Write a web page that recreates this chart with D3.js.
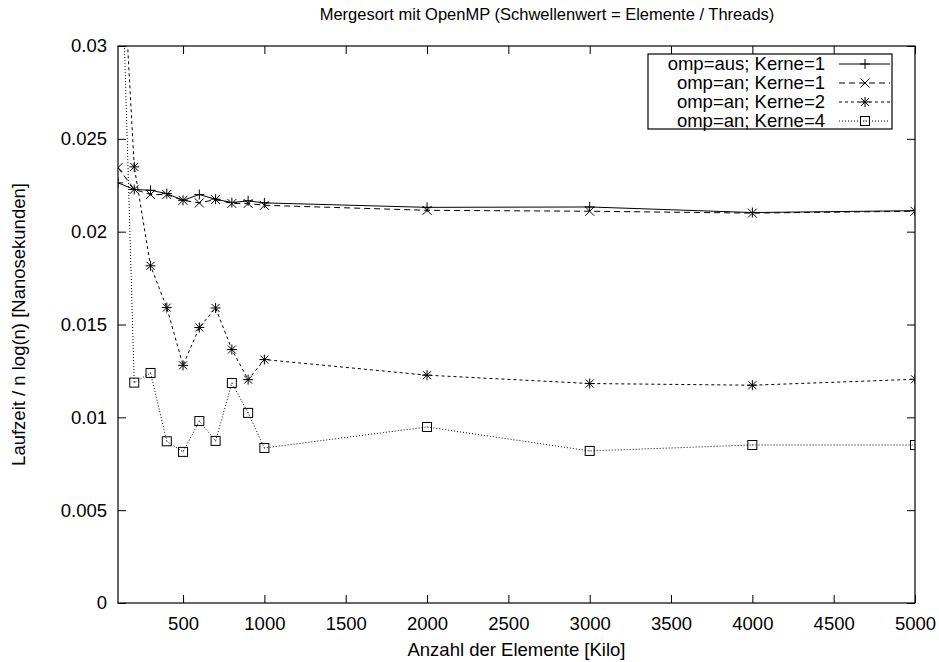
<!DOCTYPE html>
<html>
<head>
<meta charset="utf-8">
<script src="https://cdn.jsdelivr.net/npm/d3@7/dist/d3.min.js"></script>
<style>
  body { margin: 0; background: #fff; }
  svg text { font-family: "Liberation Sans", Arial, Helvetica, sans-serif; fill: #000; }
</style>
</head>
<body>
<div id="chart"></div>
<script>
const WIDTH = 939;
const HEIGHT = 662;
const MARGIN = { left: 118, right: 24, top: 46, bottom: 59 };

const TITLE = 'Mergesort mit OpenMP (Schwellenwert = Elemente / Threads)';
const X_LABEL = 'Anzahl der Elemente [Kilo]';
const Y_LABEL = 'Laufzeit / n log(n) [Nanosekunden]';

// Anzahl der Elemente [Kilo]
const sizes = [100, 200, 300, 400, 500, 600, 700, 800, 900, 1000, 2000, 3000, 4000, 5000];

// Laufzeit / n log(n) per series
const ompAusK1 = [0.02263, 0.02227, 0.02223, 0.02205, 0.02169, 0.02200, 0.02175, 0.02157, 0.02166, 0.02155, 0.02131, 0.02133, 0.02103, 0.02113];
const ompAnK1 = [0.02345, 0.02228, 0.02200, 0.02200, 0.02169, 0.02155, 0.02173, 0.02152, 0.02152, 0.02142, 0.02115, 0.02110, 0.02100, 0.02110];
const ompAnK2 = [0.0395, 0.02349, 0.01816, 0.01591, 0.01280, 0.01484, 0.01589, 0.01365, 0.01203, 0.01311, 0.01227, 0.01182, 0.01173, 0.01205];
const ompAnK4 = [0.0420, 0.01187, 0.01239, 0.00871, 0.00814, 0.00980, 0.00873, 0.01185, 0.01024, 0.00835, 0.00948, 0.00819, 0.00851, 0.00851];

const seriesNames = ['omp=aus; Kerne=1', 'omp=an; Kerne=1', 'omp=an; Kerne=2', 'omp=an; Kerne=4'];
const seriesValues = [ompAusK1, ompAnK1, ompAnK2, ompAnK4];
const seriesDash = [null, '6,4', '3,3', '1,2'];
const seriesMarker = ['plus', 'cross', 'star', 'box'];

const xTicks = [500, 1000, 1500, 2000, 2500, 3000, 3500, 4000, 4500, 5000];
const yTicks = [0, 0.005, 0.01, 0.015, 0.02, 0.025, 0.03];
const yTickLabels = ['0', '0.005', '0.01', '0.015', '0.02', '0.025', '0.03'];

const svg = d3.select('#chart')
    .append('svg')
    .attr('width', WIDTH)
    .attr('height', HEIGHT);

const x = d3.scaleLinear()
    .domain([100, 5000])
    .range([MARGIN.left, WIDTH - MARGIN.right]);

const y = d3.scaleLinear()
    .domain([0, 0.03])
    .range([HEIGHT - MARGIN.bottom, MARGIN.top]);

const FONT = 18.5;
const TICK = 8;

svg.append('defs').append('clipPath')
    .attr('id', 'plot-clip')
    .append('rect')
    .attr('x', MARGIN.left)
    .attr('y', MARGIN.top)
    .attr('width', WIDTH - MARGIN.left - MARGIN.right)
    .attr('height', HEIGHT - MARGIN.top - MARGIN.bottom);

// axes: bottom + left with labels, top + right mirrored ticks
svg.append('g')
    .attr('transform', `translate(0,${HEIGHT - MARGIN.bottom})`)
    .call(d3.axisBottom(x).tickValues(xTicks).tickSizeInner(-TICK).tickSizeOuter(0).tickPadding(TICK + 6)
        .tickFormat(d3.format('d')))
    .call(g => g.select('.domain').remove())
    .call(g => g.selectAll('text').style('font-size', FONT + 'px'));

svg.append('g')
    .attr('transform', `translate(0,${MARGIN.top})`)
    .call(d3.axisTop(x).tickValues(xTicks).tickSizeInner(-TICK).tickSizeOuter(0).tickFormat(''))
    .call(g => g.select('.domain').remove());

svg.append('g')
    .attr('transform', `translate(${MARGIN.left},0)`)
    .call(d3.axisLeft(y).tickValues(yTicks).tickSizeInner(-TICK).tickSizeOuter(0).tickPadding(TICK + 3)
        .tickFormat((d, i) => yTickLabels[i]))
    .call(g => g.select('.domain').remove())
    .call(g => g.selectAll('text').style('font-size', FONT + 'px'));

svg.append('g')
    .attr('transform', `translate(${WIDTH - MARGIN.right},0)`)
    .call(d3.axisRight(y).tickValues(yTicks).tickSizeInner(-TICK).tickSizeOuter(0).tickFormat(''))
    .call(g => g.select('.domain').remove());

svg.selectAll('.tick line').attr('stroke', '#000');

svg.append('rect')
    .attr('x', MARGIN.left)
    .attr('y', MARGIN.top)
    .attr('width', WIDTH - MARGIN.left - MARGIN.right)
    .attr('height', HEIGHT - MARGIN.top - MARGIN.bottom)
    .attr('fill', 'none')
    .attr('stroke', '#000')
    .attr('stroke-width', 1.2);

// markers
function drawMarker(g, type, cx, cy) {
    const s = 5;
    const stroke = '#000';
    if (type === 'plus' || type === 'star') {
        g.append('path')
            .attr('d', `M${cx - s},${cy}H${cx + s}M${cx},${cy - s}V${cy + s}`)
            .attr('stroke', stroke).attr('fill', 'none');
    }
    if (type === 'cross' || type === 'star') {
        const c = type === 'star' ? 4 : 4.5;
        g.append('path')
            .attr('d', `M${cx - c},${cy - c}L${cx + c},${cy + c}M${cx - c},${cy + c}L${cx + c},${cy - c}`)
            .attr('stroke', stroke).attr('fill', 'none');
    }
    if (type === 'box') {
        g.append('rect')
            .attr('x', cx - 4.5).attr('y', cy - 4.5)
            .attr('width', 9).attr('height', 9)
            .attr('fill', 'none').attr('stroke', stroke);
        g.append('rect')
            .attr('x', cx - 0.5).attr('y', cy - 0.5)
            .attr('width', 1).attr('height', 1)
            .attr('fill', '#444');
    }
}

const plot = svg.append('g').attr('clip-path', 'url(#plot-clip)');

const line = d3.line()
    .x(d => x(d[0]))
    .y(d => y(d[1]));

seriesValues.forEach((vals, i) => {
    const data = sizes.map((s, j) => [s, vals[j]]);
    plot.append('path')
        .datum(data)
        .attr('fill', 'none')
        .attr('stroke', '#000')
        .attr('stroke-width', 1)
        .attr('stroke-dasharray', seriesDash[i])
        .attr('d', line);
    const mg = plot.append('g');
    data.forEach(d => drawMarker(mg, seriesMarker[i], x(d[0]), y(d[1])));
});

// legend
const legend = svg.append('g');
legend.append('rect')
    .attr('x', 648).attr('y', 54)
    .attr('width', 244).attr('height', 75)
    .attr('fill', '#fff')
    .attr('stroke', '#000')
    .attr('stroke-width', 1.2);

seriesNames.forEach((name, i) => {
    const ry = 64 + i * 19;
    legend.append('text')
        .attr('x', 825)
        .attr('y', ry)
        .attr('dy', '0.35em')
        .attr('text-anchor', 'end')
        .style('font-size', FONT + 'px')
        .text(name);
    legend.append('line')
        .attr('x1', 839).attr('x2', 890)
        .attr('y1', ry).attr('y2', ry)
        .attr('stroke', '#000')
        .attr('stroke-dasharray', seriesDash[i]);
    drawMarker(legend, seriesMarker[i], 865, ry);
});

// titles
svg.append('text')
    .attr('x', 547)
    .attr('y', 20)
    .attr('text-anchor', 'middle')
    .style('font-size', '16.5px')
    .text(TITLE);

svg.append('text')
    .attr('x', (MARGIN.left + WIDTH - MARGIN.right) / 2)
    .attr('y', 656)
    .attr('text-anchor', 'middle')
    .style('font-size', FONT + 'px')
    .text(X_LABEL);

svg.append('text')
    .attr('transform', `translate(25,${(MARGIN.top + HEIGHT - MARGIN.bottom) / 2}) rotate(-90)`)
    .attr('text-anchor', 'middle')
    .style('font-size', FONT + 'px')
    .text(Y_LABEL);
</script>
</body>
</html>
